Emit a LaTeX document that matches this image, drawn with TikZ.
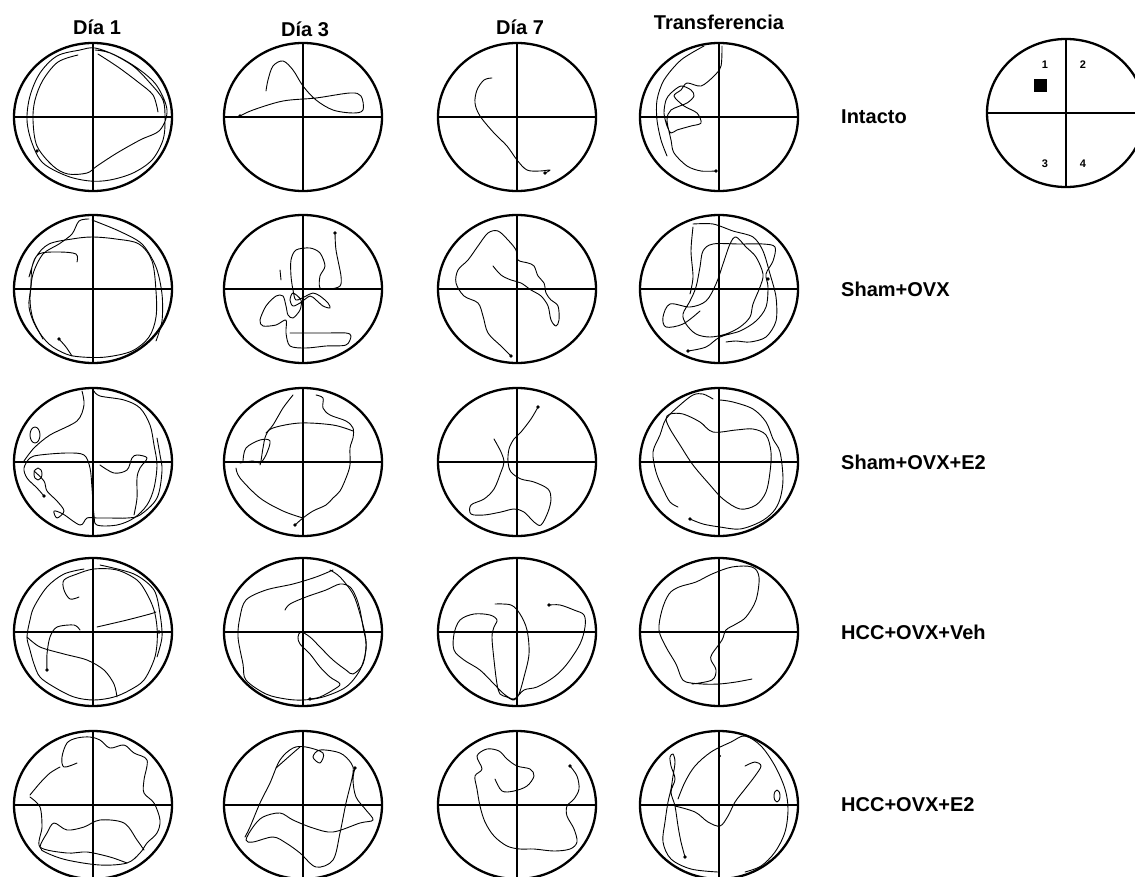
\documentclass[tikz,border=0pt]{standalone}
\usepackage{fontspec}
\setmainfont{Liberation Sans}
\usepackage{tikz}

\begin{document}
\begin{tikzpicture}[
  x=1pt,y=-1pt,
  pool/.style={draw=black,line width=2.3pt},
  hline/.style={line width=2.6pt},
  trail/.style={line width=0.9pt,line join=round,line cap=round},
  head/.style={font=\bfseries\fontsize{20}{22}\selectfont,inner sep=0pt},
  group/.style={font=\bfseries\fontsize{20}{22}\selectfont,anchor=west,inner sep=0pt},
  quad/.style={font=\bfseries\fontsize{11}{12}\selectfont,inner sep=0pt},
  start/.style={fill=black}
]
\useasboundingbox (0,0) rectangle (1135,876);

% pools: centre and width of the vertical line
\foreach \x/\y/\vw in {93/117/2.6pt,303/117/1.3pt,517/117/2.4pt,719/117/2.4pt,
  93/289/2.6pt,303/289/1.3pt,517/289/1.8pt,719/289/2.4pt,
  93/462/2.6pt,303/462/1.3pt,517/462/2.4pt,719/462/2.4pt,
  93/632/2.6pt,303/632/1.3pt,517/632/2.4pt,719/632/2.4pt,
  93/805/2.6pt,303/805/2.4pt,517/805/2.6pt,719/805/1.3pt}{
  \begin{scope}[shift={(\x,\y)}]
    \draw[pool] (0,0) ellipse [x radius=79,y radius=74];
    \draw[hline] (-79,0) -- (79,0);
    \draw[line width=\vw] (0,-75) -- (0,75);
  \end{scope}
}

\node[head] (dia1) at (97,27) {Día 1};
\node[head] (dia3) at (305,29) {Día 3};
\node[head] (dia7) at (520,27) {Día 7};
\node[head] (transf) at (719,22) {Transferencia};

\node[group] (intacto) at (841,117) {Intacto};
\node[group] (shamovx) at (841,289) {Sham+OVX};
\node[group] (shame2) at (841,462) {Sham+OVX+E2};
\node[group] (hccveh) at (841,632) {HCC+OVX+Veh};
\node[group] (hcce2) at (841,805) {HCC+OVX+E2};

% quadrant key
\begin{scope}[shift={(1066,113)}]
  \draw[pool] (0,0) ellipse [x radius=79,y radius=74];
  \draw[hline] (-79,0) -- (79,0);
  \draw[line width=1.3pt] (0,-75) -- (0,75);
  \node[quad] (q1) at (-21,-48) {1};
  \node[quad] (q2) at (17,-48) {2};
  \node[quad] (q3) at (-21,51) {3};
  \node[quad] (q4) at (17,51) {4};
  \node[fill=black,minimum size=13pt,inner sep=0pt] (platform) at (-25.5,-27.5) {};
\end{scope}

% row 1
\begin{scope}[shift={(93,117)}]
  \draw[trail] plot[smooth,tension=0.55] coordinates {(2,-67) (17,-64) (40,-51) (57,-34) (70,-17) (72,3) (70,23) (59,43) (40,56) (17,63) (-3,64) (-26,59) (-50,46) (-61,26) (-66,3) (-63,-21) (-53,-44) (-36,-61) (-13,-67) (2,-69) (24,-61) (47,-47) (64,-31) (74,-7) (67,13) (47,23) (24,36) (4,49) (-6,56) (-25,57) (-40,49) (-56,29) (-60,3) (-58,-17) (-50,-37) (-35,-55) (-15,-62)};
  \draw[trail] plot[smooth] coordinates {(5,-63) (25,-50) (45,-35) (60,-22) (65,-5)};
  \fill[start] (-56,34) circle (1.8);
\end{scope}
\begin{scope}[shift={(303,117)}]
  \draw[trail] plot[smooth,tension=0.55] coordinates {(-63,-1) (-50,-7) (-20,-16) (13,-19) (47,-24) (58,-21) (60,-7) (50,-4) (30,-7) (13,-17) (0,-31) (-10,-47) (-20,-56) (-30,-51) (-35,-37) (-37,-26)};
  \fill[start] (-63,-1) circle (1.8);
\end{scope}
\begin{scope}[shift={(517,117)}]
  \draw[trail] plot[smooth,tension=0.55] coordinates {(-25,-39) (-33,-37) (-40,-27) (-42,-14) (-37,-1) (-23,16) (-10,29) (0,43) (10,53) (23,54) (33,53) (28,56)};
  \fill[start] (28,56) circle (1.8);
\end{scope}
\begin{scope}[shift={(719,117)}]
  \draw[trail] plot[smooth,tension=0.5] coordinates {(3,-71) (2,-51) (-5,-41) (-18,-31) (-32,-34) (-38,-27) (-45,-21) (-35,-11) (-22,-4) (-18,6) (-28,9) (-42,13) (-48,16) (-52,9) (-55,-4) (-53,-17) (-48,-24) (-38,-31) (-28,-27) (-25,-21) (-32,-14) (-48,-7) (-52,3) (-48,23) (-45,36) (-32,49) (-18,54) (-3,54)};
  \draw[trail] plot[smooth] coordinates {(-15,-71) (-38,-57) (-55,-37) (-62,-17) (-62,3) (-58,23) (-52,39)};
  \fill[start] (-3,54) circle (1.8);
\end{scope}

% row 2
\begin{scope}[shift={(93,289)}]
  \draw[trail] plot[smooth,tension=0.55] coordinates {(-16,-27) (-17,-35) (-34,-37) (-54,-35) (-61,-22) (-62,-2) (-64,18) (-57,38) (-44,55) (-27,65) (-11,68) (13,68) (39,62) (56,48) (63,28) (63,2) (59,-28) (46,-45) (23,-50) (-1,-52) (-21,-50) (-44,-45) (-57,-32) (-64,-12)};
  \draw[trail] plot[smooth] coordinates {(-4,-70) (-14,-68) (-21,-55) (-34,-45) (-50,-35) (-60,-15) (-63,10) (-60,30) (-50,50)};
  \draw[trail] plot[smooth] coordinates {(-1,-69) (26,-58) (49,-45) (63,-22) (69,5) (69,32) (63,52)};
  \draw[trail] plot[smooth] coordinates {(-34,50) (-27,58) (-21,67)};
  \fill[start] (-34,50) circle (1.8);
\end{scope}
\begin{scope}[shift={(303,289)}]
  \draw[trail] plot[smooth,tension=0.5] coordinates {(32,-56) (33,-39) (38,-13) (37,-3) (27,0) (17,-1) (17,-13) (22,-23) (17,-36) (7,-41) (-7,-39) (-12,-29) (-12,-13) (-10,1) (-7,11) (3,7) (10,4) (17,7) (25,14) (27,19) (20,17) (13,11) (7,7) (-3,14) (-10,17) (-13,11) (-10,4) (-2,11) (-3,21) (-10,29) (-15,26) (-17,17) (-20,7) (-27,7) (-37,17) (-43,31) (-40,37) (-27,36) (-17,31) (-17,44) (-13,57) (3,59) (23,57) (43,56) (48,47) (43,44) (23,44) (0,44) (-13,44)};
  \draw[trail] (-23,-19) -- (-22,-9);
  \fill[start] (32,-56) circle (1.8);
\end{scope}
\begin{scope}[shift={(517,289)}]
  \draw[trail] plot[smooth,tension=0.55] coordinates {(-6,67) (-16,57) (-29,44) (-34,27) (-39,14) (-53,7) (-61,-6) (-59,-19) (-49,-29) (-39,-43) (-29,-56) (-19,-58) (-9,-49) (-1,-39) (1,-29) (11,-26) (17,-23) (21,-13) (27,-6) (29,4) (34,11) (41,17) (42,31) (39,37) (34,31) (31,17) (24,7) (14,1) (4,-6) (-6,-9) (-16,-14) (-24,-23)};
  \fill[start] (-6,67) circle (1.8);
\end{scope}
\begin{scope}[shift={(719,289)}]
  \draw[trail] plot[smooth,tension=0.55] coordinates {(-31,62) (-13,58) (1,48) (21,42) (37,32) (47,18) (49,-2) (47,-15) (54,-28) (56,-42) (44,-45) (21,-45) (-6,-45) (-16,-38) (-19,-22) (-23,-2) (-29,12) (-36,25) (-33,35) (-23,45) (-9,48) (7,45) (21,38) (31,28) (34,15) (41,-2) (44,-15) (37,-32) (27,-42) (17,-52) (11,-45) (4,-25) (-3,-5) (-13,12) (-29,18) (-49,15) (-56,28) (-53,38) (-36,35) (-19,22)};
  \draw[trail] plot[smooth] coordinates {(-26,-62) (-28,-38) (-26,-12) (-29,5)};
  \draw[trail] plot[smooth] coordinates {(-26,-65) (-6,-65) (14,-58) (34,-52) (44,-38) (51,-15) (57,8) (57,32) (47,48) (31,53) (17,52) (7,53)};
  \fill[start] (-31,62) circle (1.8);
  \fill[start] (49,-10) circle (1.8);
\end{scope}

% row 3
\begin{scope}[shift={(93,462)}]
  \draw[trail] plot[smooth,tension=0.55] coordinates {(-49,34) (-56,26) (-66,16) (-69,6) (-63,-4) (-53,-7) (-26,-9) (-9,-7) (-3,6) (-1,26) (1,53) (4,63) (24,63) (41,56) (54,43) (61,26) (64,3) (61,-17) (57,-37) (47,-54) (31,-62) (7,-66) (1,-71)};
  \draw[trail] plot[smooth] coordinates {(-11,-71) (-9,-57) (-16,-41) (-43,-27) (-59,-14) (-69,-1)};
  \draw[trail] plot[smooth,tension=0.55] coordinates {(-59,9) (-49,19) (-46,29) (-36,39) (-29,49) (-36,56) (-39,49) (-30,52) (-13,63) (-6,56) (4,56) (17,56) (34,56) (47,53) (64,36) (69,9) (67,-7) (64,-24)};
  \draw[trail] plot[smooth,tension=0.55] coordinates {(7,3) (21,11) (34,8) (39,-4) (44,-7) (54,-4) (47,6) (44,16) (44,36) (41,53)};
  \draw[trail] (-58,-27) ellipse [x radius=5,y radius=8];
  \draw[trail] (-55,12) ellipse [x radius=4,y radius=6];
  \fill[start] (-49,34) circle (1.8);
\end{scope}
\begin{scope}[shift={(303,462)}]
  \draw[trail] plot[smooth,tension=0.55] coordinates {(-8,63) (0,56) (10,49) (23,43) (30,36) (37,29) (43,16) (47,3) (47,-14) (50,-24) (50,-34) (43,-41) (27,-47) (20,-54) (20,-64) (13,-67)};
  \draw[trail] plot[smooth,tension=0.55] coordinates {(50,-31) (30,-37) (-3,-39) (-30,-34) (-37,-27) (-40,-14) (-42,-1) (-43,3)};
  \draw[trail] plot[smooth,tension=0.55] coordinates {(-60,-1) (-57,-14) (-43,-22) (-33,-21) (-37,-7) (-43,1) (-50,-1) (-63,1)};
  \draw[trail] plot[smooth,tension=0.55] coordinates {(-67,6) (-63,16) (-43,36) (-20,49) (0,56)};
  \draw[trail] plot[smooth] coordinates {(-10,-67) (-20,-54) (-30,-37) (-37,-29)};
  \fill[start] (-8,63) circle (1.8);
\end{scope}
\begin{scope}[shift={(517,462)}]
  \draw[trail] plot[smooth,tension=0.55] coordinates {(21,-55) (14,-43) (4,-30) (-3,-23) (-8,-13) (-9,0) (-6,10) (4,17) (17,20) (31,27) (34,37) (31,50) (24,63) (17,60) (7,50) (-3,47) (-16,50) (-33,53) (-46,52) (-46,43) (-33,37) (-23,27) (-16,10) (-13,0) (-16,-10) (-23,-23)};
  \fill[start] (21,-55) circle (1.8);
\end{scope}
\begin{scope}[shift={(719,462)}]
  \draw[trail] plot[smooth,tension=0.55] coordinates {(-29,57) (-16,62) (1,65) (21,67) (41,60) (54,50) (61,37) (64,17) (61,-10) (54,-23) (47,-40) (34,-53) (14,-60) (1,-62)};
  \draw[trail] plot[smooth,tension=0.55] coordinates {(-6,-63) (-16,-68) (-26,-67) (-39,-57) (-53,-43) (-59,-27) (-66,-10) (-63,10) (-56,27) (-49,40) (-41,45)};
  \draw[trail] plot[smooth cycle,tension=0.55] coordinates {(-53,-43) (-49,-48) (-36,-48) (-19,-40) (-6,-30) (17,-32) (34,-33) (47,-27) (52,-10) (51,10) (47,30) (37,43) (21,47) (4,37) (-9,23) (-26,3) (-39,-17) (-49,-33)};
  \fill[start] (-29,57) circle (1.8);
\end{scope}

% row 4
\begin{scope}[shift={(93,632)}]
  \draw[trail] plot[smooth,tension=0.55] coordinates {(-14,-35) (-23,-33) (-29,-42) (-29,-52) (-16,-58) (1,-63) (24,-62) (44,-52) (54,-38) (61,-22) (64,-5) (64,12) (61,28) (51,48) (37,58) (21,65) (1,68) (-19,65) (-39,55) (-53,45) (-59,32) (-63,18) (-66,5) (-63,-12) (-59,-25) (-46,-45) (-29,-58) (-9,-63)};
  \draw[trail] plot[smooth] coordinates {(-66,5) (-53,15) (-29,22) (-6,28) (11,38) (21,52) (24,65)};
  \draw[trail] plot[smooth] coordinates {(-46,38) (-46,22) (-43,5) (-36,-5) (-19,-7) (-13,-2)};
  \draw[trail] plot[smooth] coordinates {(4,-5) (34,-12) (57,-18) (63,-20)};
  \draw[trail] plot[smooth] coordinates {(7,-67) (41,-58) (61,-42) (67,-18) (69,5) (64,25)};
  \fill[start] (-46,38) circle (1.8);
  \fill[start] (66,0) circle (1.8);
\end{scope}
\begin{scope}[shift={(303,632)}]
  \draw[trail] plot[smooth,tension=0.55] coordinates {(-18,-22) (-13,-28) (3,-35) (23,-42) (37,-48) (47,-45) (53,-35) (57,-22) (60,-5) (63,12) (60,32) (50,42) (43,38) (30,28) (17,15) (7,5) (-2,0) (-5,5) (-3,12) (7,22) (17,35) (27,45) (37,52) (30,58) (17,65) (7,67)};
  \draw[trail] plot[smooth,tension=0.55] coordinates {(30,-62) (13,-55) (-10,-48) (-37,-42) (-57,-32) (-63,-15) (-65,5) (-60,32) (-57,48) (-37,62) (-17,67) (0,68) (20,65) (43,55) (57,38) (63,18) (62,2) (57,-18) (50,-38) (37,-55) (27,-62)};
  \fill[start] (7,67) circle (1.8);
\end{scope}
\begin{scope}[shift={(517,632)}]
  \draw[trail] plot[smooth,tension=0.55] coordinates {(-22,-28) (-6,-27) (3,-18) (10,-2) (12,22) (7,45) (2,62) (-3,68) (-10,65) (-17,62) (-20,52) (-23,28) (-25,5) (-23,-5) (-20,-12) (-27,-17) (-43,-18) (-57,-12) (-63,2) (-63,18) (-53,28) (-37,38) (-23,52) (-13,62) (-3,67) (7,58) (20,55) (37,45) (50,32) (63,12) (68,-5) (67,-17) (57,-22) (43,-27) (32,-27)};
  \fill[start] (32,-27) circle (1.8);
\end{scope}
\begin{scope}[shift={(719,632)}]
  \draw[trail] plot[smooth,tension=0.55] coordinates {(33,47) (17,50) (0,52) (-17,52) (-33,50) (-38,45) (-43,32) (-53,15) (-60,-2) (-57,-22) (-50,-38) (-40,-45) (-23,-50) (-7,-58) (13,-65) (33,-65) (40,-55) (37,-32) (27,-15) (17,-8) (7,-2) (3,8) (-7,22) (-8,28) (-3,38) (-7,48) (-27,52)};
\end{scope}

% row 5
\begin{scope}[shift={(93,805)}]
  \draw[trail] plot[smooth,tension=0.55] coordinates {(-16,-42) (-29,-38) (-31,-48) (-26,-62) (-16,-67) (-3,-68) (7,-65) (17,-57) (31,-60) (41,-52) (54,-45) (51,-25) (51,-12) (61,-2) (67,15) (64,28) (54,38) (47,48) (34,58) (7,60) (-26,55) (-46,48) (-53,42) (-46,28) (-39,18) (-26,25) (-9,22) (7,15) (31,18) (44,35) (51,45)};
  \draw[trail] plot[smooth] coordinates {(-63,-10) (-53,-22) (-43,-32) (-33,-38)};
  \draw[trail] plot[smooth] coordinates {(-63,-8) (-53,2) (-51,22) (-53,42) (-26,48) (-6,47) (17,52) (34,58)};
\end{scope}
\begin{scope}[shift={(303,805)}]
  \draw[trail] plot[smooth,tension=0.55] coordinates {(52,-37) (50,-25) (53,-8) (63,5) (70,15) (57,18) (30,27) (10,23) (-10,15) (-23,8) (-40,12) (-50,22) (-57,35) (-50,37) (-30,32) (-17,38) (-3,48) (13,62) (30,55) (37,28) (43,-2) (50,-32) (48,-42) (37,-52) (17,-55) (10,-48) (17,-42) (20,-52) (3,-58) (-10,-57) (-23,-45) (-33,-22) (-43,-2) (-53,22) (-58,32)};
  \draw[trail] plot[smooth] coordinates {(-27,-37) (-10,-52) (-3,-58)};
  \fill[start] (52,-37) circle (1.8);
\end{scope}
\begin{scope}[shift={(517,805)}]
  \draw[trail] plot[smooth,tension=0.55] coordinates {(53,-39) (60,-29) (62,-16) (57,-6) (50,1) (50,11) (57,24) (60,37) (53,44) (37,46) (17,44) (3,44) (-10,41) (-23,31) (-32,17) (-37,1) (-40,-16) (-42,-29) (-35,-36) (-40,-49) (-30,-56) (-18,-54) (-10,-46) (0,-39) (13,-36) (17,-29) (10,-19) (-3,-14) (-15,-14) (-22,-26)};
  \fill[start] (53,-39) circle (1.8);
\end{scope}
\begin{scope}[shift={(719,805)}]
  \draw[trail] plot[smooth,tension=0.55] coordinates {(-34,52) (-38,37) (-41,21) (-44,1) (-48,-13) (-44,-26) (-48,-39) (-49,-48) (-46,-51) (-44,-43) (-46,-29) (-48,-16) (-51,-3) (-54,17) (-56,37) (-48,54) (-28,64) (-1,67)};
  \draw[trail] plot[smooth,tension=0.55] coordinates {(-41,-6) (-34,-23) (-24,-39) (-8,-53) (12,-63) (26,-69) (42,-59) (56,-39) (66,-16) (69,4) (66,27) (56,47) (42,61) (26,67)};
  \draw[trail] plot[smooth,tension=0.55] coordinates {(-44,1) (-24,7) (-11,17) (1,21) (9,11) (16,-3) (26,-16) (36,-29) (42,-39) (36,-43) (26,-39)};
  \draw[trail] (58,-9) ellipse [x radius=3,y radius=6];
  \fill[start] (-34,52) circle (1.8);
  \fill[start] (1,-49) circle (1.2);
\end{scope}
\end{tikzpicture}
\end{document}
